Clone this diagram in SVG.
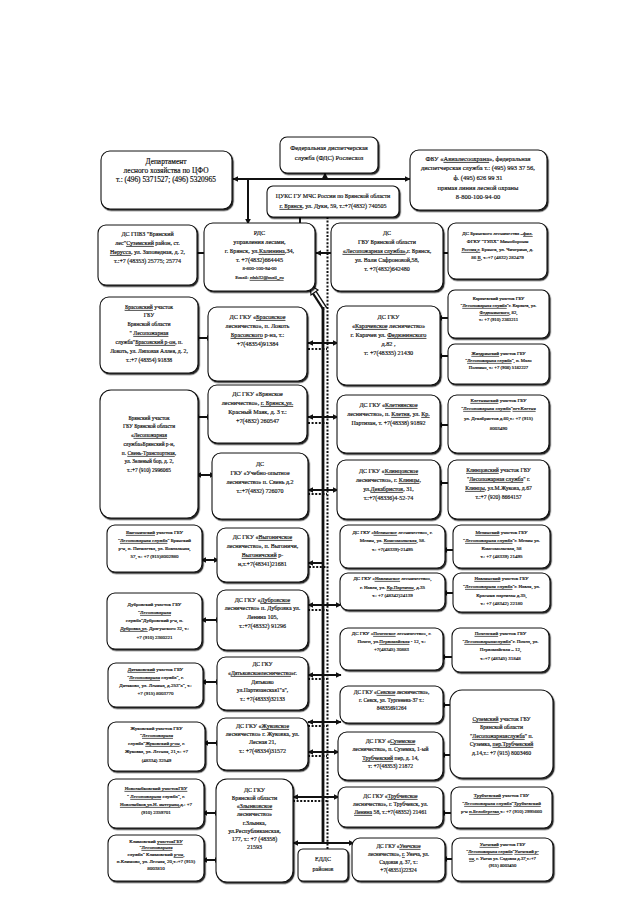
<svg xmlns="http://www.w3.org/2000/svg" width="640" height="905" viewBox="0 0 640 905">
<defs>
<style>
.bg{fill:#fff}
.b{fill:#fff;stroke:#111;stroke-width:1.1;filter:url(#sh)}
.t{font-family:"Liberation Serif","Times New Roman",serif;fill:#111;stroke:#111;stroke-width:0.18;text-anchor:middle}
.u{text-decoration:underline}
.f75{font-size:7.4px}.f7{font-size:7px}.f65{font-size:6.5px}.f62{font-size:6.2px}.f6{font-size:6px}.f58{font-size:5.7px}.f55{font-size:5.4px}.f5{font-size:5px}.f48{font-size:4.7px}
.a{stroke:#111;stroke-width:2;fill:none;marker-start:url(#ah);marker-end:url(#ah)}
.a1{stroke:#111;stroke-width:2;fill:none;marker-end:url(#ah)}
.ln{stroke:#111;stroke-width:2.8;fill:none}
.dt{stroke:#111;stroke-width:2;stroke-dasharray:2 1.6;fill:none}
</style>
<filter id="sh" x="-5%" y="-5%" width="115%" height="115%">
<feDropShadow dx="1.2" dy="1.4" stdDeviation="0.4" flood-color="#000" flood-opacity="0.85"/>
</filter>
<marker id="ah" viewBox="0 0 10 10" refX="9" refY="5" markerWidth="6" markerHeight="6" markerUnits="userSpaceOnUse" orient="auto-start-reverse">
<path d="M0,0 L10,5 L0,10 Z" fill="#111"/>
</marker>
</defs>
<rect class="bg" width="640" height="905"/>

<g id="connectors">
<line class="a" x1="233" y1="179" x2="410" y2="179"/>
<line class="a1" x1="325" y1="179" x2="325" y2="173"/>
<line class="a1" x1="248" y1="179" x2="248" y2="224"/>
<line class="a" x1="300" y1="211" x2="300" y2="229"/>
<line class="dt" x1="327.5" y1="217" x2="327.5" y2="849"/>
<line class="a" x1="190" y1="253" x2="211" y2="253"/>
<line class="a" x1="316" y1="253" x2="336" y2="253"/>
<line class="a" x1="437" y1="253" x2="455" y2="253"/>
<path d="M325,309 L314,292" stroke="#111" stroke-width="5.5" fill="none"/>
<path d="M325.5,309 L314.5,292" stroke="#fff" stroke-width="2" fill="none"/>
<path d="M310,285 L318,290 L311,295 Z" fill="#fff" stroke="#111" stroke-width="1.2"/>
<line class="ln" x1="323" y1="307" x2="323" y2="844"/>
<line class="a" x1="308" y1="343" x2="338" y2="343"/>
<line class="a" x1="308" y1="417" x2="338" y2="417"/>
<line class="a" x1="308" y1="490" x2="338" y2="490"/>
<line class="a1" x1="323" y1="563" x2="308" y2="563"/>
<line class="a" x1="308" y1="605" x2="341" y2="605"/>
<line class="a" x1="308" y1="675" x2="341" y2="675"/>
<line class="a" x1="308" y1="722" x2="341" y2="722"/>
<line class="a" x1="308" y1="752" x2="339" y2="752"/>
<line class="a" x1="293" y1="797" x2="339" y2="797"/>
<line class="a" x1="293" y1="843" x2="354" y2="843"/>
<line class="dt" x1="308" y1="349" x2="327" y2="349"/>
<line class="dt" x1="308" y1="423" x2="327" y2="423"/>
<line class="dt" x1="308" y1="494" x2="327" y2="494"/>
<line class="dt" x1="309" y1="567" x2="327" y2="567"/>
<line class="dt" x1="308" y1="610" x2="327" y2="610"/>
<line class="dt" x1="308" y1="679" x2="327" y2="679"/>
<line class="dt" x1="308" y1="726" x2="327" y2="726"/>
<line class="dt" x1="308" y1="756" x2="327" y2="756"/>
<line class="dt" x1="293" y1="801" x2="327" y2="801"/>
<line class="a" x1="194" y1="338" x2="212" y2="338"/>
<line class="a" x1="194" y1="417" x2="212" y2="417"/>
<line class="a" x1="196" y1="475" x2="215" y2="475"/>
<line class="a" x1="201" y1="560" x2="219" y2="560"/>
<line class="a" x1="201" y1="620" x2="221" y2="620"/>
<line class="a" x1="201" y1="682" x2="221" y2="682"/>
<line class="a" x1="203" y1="743" x2="221" y2="743"/>
<line class="a" x1="202" y1="813" x2="220" y2="813"/>
<line class="a" x1="202" y1="860" x2="220" y2="860"/>
<line class="a" x1="437" y1="318" x2="455" y2="318"/>
<line class="a" x1="437" y1="356" x2="455" y2="356"/>
<line class="a" x1="437" y1="425" x2="455" y2="425"/>
<line class="a" x1="437" y1="483" x2="455" y2="483"/>
<line class="a" x1="442" y1="550" x2="458" y2="550"/>
<line class="a" x1="442" y1="593" x2="458" y2="593"/>
<line class="a" x1="440" y1="657" x2="457" y2="657"/>
<line class="a" x1="440" y1="705" x2="455" y2="705"/>
<line class="a" x1="440" y1="755" x2="455" y2="755"/>
<line class="a" x1="440" y1="813" x2="456" y2="813"/>
<line class="a" x1="442" y1="859" x2="457" y2="859"/>
</g>

<g id="dept"><rect class="b" x="101" y="151" width="131" height="58" rx="9"/>
<text class="t f75"><tspan x="166" y="164">Департамент</tspan><tspan x="166" y="173">лесного хозяйства по ЦФО</tspan><tspan x="166" y="182">т.: (496) 5371527; (496) 5320965</tspan></text></g>

<g id="fds"><rect class="b" x="280" y="137" width="98" height="36" rx="7"/>
<text class="t f65"><tspan x="329" y="150">Федеральная диспетчерская</tspan><tspan x="329" y="160">служба  (ФДС) Рослесхоз</tspan></text></g>

<g id="fbu"><rect class="b" x="410" y="150" width="137" height="60" rx="9"/>
<text class="t f65"><tspan x="478" y="161">ФБУ «<tspan class="u">Авиалесоохрана</tspan>»,  федеральная</tspan><tspan x="478" y="170">диспетчерская служба т.:  (495) 993 37 56,</tspan><tspan x="478" y="180">ф. (495) 626 99 31</tspan><tspan x="478" y="190">прямая линия лесной охраны</tspan><tspan x="478" y="199">8-800-100-94-00</tspan></text></g>

<g id="cuks"><rect class="b" x="267" y="186" width="132" height="31" rx="6"/>
<text class="t f6"><tspan x="333" y="198">ЦУКС ГУ МЧС России по Брянской области</tspan><tspan x="333" y="208"><tspan class="u">г. Брянск</tspan>, ул. Дуки, 59,  т.:+7(4832) 740505</tspan></text></g>

<g id="gpbz"><rect class="b" x="98" y="225" width="99" height="60" rx="8"/>
<text class="t f6"><tspan x="147.5" y="236">ДС ГПБЗ "Брянский</tspan><tspan x="147.5" y="245">лес"<tspan class="u">Суземский</tspan> район, ст.</tspan><tspan x="147.5" y="254"><tspan class="u">Нерусса</tspan>, ул. Заповедная, д. 2,</tspan><tspan x="147.5" y="263">т.:+7 (48353) 25775; 25774</tspan></text></g>

<g id="rds"><rect class="b" x="204" y="223" width="111" height="68" rx="9"/>
<text class="t f62"><tspan x="259.5" y="235">РДС</tspan><tspan x="259.5" y="244">управления лесами,</tspan><tspan x="259.5" y="253">г. Брянск, ул.<tspan class="u">Калинина</tspan>,34,</tspan><tspan x="259.5" y="262">т. +7(4832)664445</tspan><tspan x="259.5" y="270" class="f5">8-800-100-94-00</tspan><tspan x="259.5" y="279" class="f5">Email: <tspan class="u">rdsb32@mail_ru</tspan></tspan></text></g>

<g id="dsgbu"><rect class="b" x="331" y="223" width="112" height="68" rx="9"/>
<text class="t f6"><tspan x="387" y="235">ДС</tspan><tspan x="387" y="244">ГБУ Брянской области</tspan><tspan x="387" y="253"><tspan class="u">«Лесопожарная служба»</tspan>,г. Брянск,</tspan><tspan x="387" y="262">ул. Вали Сафроновой,58,</tspan><tspan x="387" y="271">т. +7(4832)642480</tspan></text></g>

<g id="bryansk-les"><rect class="b" x="448" y="223" width="99" height="56" rx="8"/>
<text class="t f5"><tspan x="497.5" y="235">ДС Брянского лесничества –<tspan class="u">фил.</tspan></tspan><tspan x="497.5" y="243">ФГКУ "ТУЛХ" Минобороны</tspan><tspan x="497.5" y="251"><tspan class="u">Россия,г.</tspan> Брянск, ул. Чичерина, д.</tspan><tspan x="497.5" y="259">86 <tspan class="u">В</tspan>, т.:+7 (4832) 282479</tspan></text></g>

<g id="brasov-uch"><rect class="b" x="100" y="297" width="98" height="76" rx="9"/>
<text class="t f58"><tspan x="149" y="309"><tspan class="u">Брасовский</tspan> участок</tspan><tspan x="149" y="317">ГБУ</tspan><tspan x="149" y="326">Брянской области</tspan><tspan x="149" y="335">" <tspan class="u">Лесопожарная</tspan></tspan><tspan x="149" y="344">служба"<tspan class="u">Брасовский р-он</tspan>, п.</tspan><tspan x="149" y="353">Локоть, ул. Липовая Аллея, д. 2,</tspan><tspan x="149" y="362">т.:+7 (48354) 91838</tspan></text></g>

<g id="brasov-ds"><rect class="b" x="208" y="307" width="99" height="74" rx="9"/>
<text class="t f62"><tspan x="257.5" y="319">ДС ГКУ «<tspan class="u">Брасовское</tspan></tspan><tspan x="257.5" y="328">лесничество», п. Локоть</tspan><tspan x="257.5" y="337"><tspan class="u">Брасовского</tspan> р-на, т.:</tspan><tspan x="257.5" y="346">+7(48354)91384</tspan></text></g>

<g id="karach-ds"><rect class="b" x="337" y="306" width="103" height="79" rx="9"/>
<text class="t f62"><tspan x="388.5" y="319">ДС ГКУ</tspan><tspan x="388.5" y="328">«<tspan class="u">Карачевское</tspan> лесничество»</tspan><tspan x="388.5" y="337">г. Карачев ул. <tspan class="u">Федюнинского</tspan></tspan><tspan x="388.5" y="346">д.82 ,</tspan><tspan x="388.5" y="355">т: +7(48335) 21430</tspan></text></g>

<g id="karach-uch"><rect class="b" x="448" y="290" width="101" height="48" rx="7"/>
<text class="t f48"><tspan x="498.5" y="300">Карачевский участок ГБУ</tspan><tspan x="498.5" y="307">"<tspan class="u">Лесопожарная служба</tspan>"г. Карачев, ул.</tspan><tspan x="498.5" y="314"><tspan class="u">Федюнинского</tspan>, 82,</tspan><tspan x="498.5" y="321">т.: +7 (910) 2363211</tspan></text></g>

<g id="zhizd-uch"><rect class="b" x="448" y="344" width="101" height="40" rx="7"/>
<text class="t f48"><tspan x="498.5" y="355"><tspan class="u">Жиздринский</tspan> участок ГБУ</tspan><tspan x="498.5" y="362">"<tspan class="u">Лесопожарная служба</tspan>", п. Мало</tspan><tspan x="498.5" y="369">Полпино, т.: +7 (908) 5182227</tspan></text></g>

<g id="bryansk-ds"><rect class="b" x="208" y="385" width="99" height="58" rx="9"/>
<text class="t f62"><tspan x="257.5" y="396">ДС ГКУ «Брянское</tspan><tspan x="257.5" y="405">лесничество», <tspan class="u">г. Брянск,ул.</tspan></tspan><tspan x="257.5" y="414">Красный Маяк, д. 3   т.:</tspan><tspan x="257.5" y="423">+7(4832) 260547</tspan></text></g>

<g id="bryansk-uch"><rect class="b" x="100" y="390" width="98" height="128" rx="11"/>
<text class="t f55"><tspan x="149" y="420">Брянский участок</tspan><tspan x="149" y="428">ГБУ Брянской области</tspan><tspan x="149" y="437">«<tspan class="u">Лесопожарная</tspan></tspan><tspan x="149" y="446">служба»Брянский р-н,</tspan><tspan x="149" y="455">п. <tspan class="u">Свень-Транспортная</tspan>,</tspan><tspan x="149" y="463">ул. Зеленый бор, д. 2,</tspan><tspan x="149" y="472">т.:+7 (910) 2996065</tspan></text></g>

<g id="kletnya-ds"><rect class="b" x="337" y="395" width="103" height="58" rx="9"/>
<text class="t f6"><tspan x="388.5" y="407">ДС ГКУ «<tspan class="u">Клетнянское</tspan></tspan><tspan x="388.5" y="416">лесничество», п. <tspan class="u">Клетня</tspan>, ул. <tspan class="u">Кр.</tspan></tspan><tspan x="388.5" y="425">Партизан, т. +7(48338) 91892</tspan></text></g>

<g id="kletnya-uch"><rect class="b" x="448" y="395" width="101" height="58" rx="9"/>
<text class="t f5"><tspan x="498.5" y="402"><tspan class="u">Клетнянский</tspan> участок ГБУ</tspan><tspan x="498.5" y="410">"<tspan class="u">Лесопожарная служба</tspan>"<tspan class="u">пгт.Клетня</tspan></tspan><tspan x="498.5" y="420">ул. Декабристов д.60,т.: +7 (915)</tspan><tspan x="498.5" y="430">8003490</tspan></text></g>

<g id="uchebno-ds"><rect class="b" x="212" y="453" width="96" height="66" rx="9"/>
<text class="t f6"><tspan x="260" y="466">ДС</tspan><tspan x="260" y="475">ГКУ «Учебно-опытное</tspan><tspan x="260" y="484">лесничество» п. Свень д.2</tspan><tspan x="260" y="493">т.:+7(4832) 726070</tspan></text></g>

<g id="klintsy-ds"><rect class="b" x="337" y="460" width="103" height="59" rx="9"/>
<text class="t f6"><tspan x="388.5" y="473">ДС ГКУ «<tspan class="u">Клинцовское</tspan></tspan><tspan x="388.5" y="482">лесничество», г. <tspan class="u">Клинцы</tspan>,</tspan><tspan x="388.5" y="491">ул.<tspan class="u">Декабристов</tspan>, 31,</tspan><tspan x="388.5" y="500">т.:+7(48336)4-52-74</tspan></text></g>

<g id="klintsy-uch"><rect class="b" x="448" y="460" width="101" height="59" rx="9"/>
<text class="t f58"><tspan x="498.5" y="472"><tspan class="u">Клинцовский</tspan> участок ГБУ</tspan><tspan x="498.5" y="481">"<tspan class="u">Лесопожарная служба</tspan>" г.</tspan><tspan x="498.5" y="490"><tspan class="u">Клинцы</tspan>, ул.М.Жукова, д.67</tspan><tspan x="498.5" y="499">т.:+7 (920) 8664157</tspan></text></g>

<g id="vygon-uch"><rect class="b" x="107" y="525" width="95" height="47" rx="8"/>
<text class="t f5"><tspan x="154.5" y="534"><tspan class="u">Выгоничский</tspan> участок ГБУ</tspan><tspan x="154.5" y="542">"<tspan class="u">Лесопожарная служба</tspan>" Брянский</tspan><tspan x="154.5" y="550">р-н, п. Пятилетка, ул. Вокзальная,</tspan><tspan x="154.5" y="558">57, т.: +7 (915)8002980</tspan></text></g>

<g id="vygon-ds"><rect class="b" x="217" y="528" width="91" height="54" rx="9"/>
<text class="t f6"><tspan x="262.5" y="539">ДС ГКУ «<tspan class="u">Выгоничское</tspan></tspan><tspan x="262.5" y="548">лесничество», п. Выгоничи,</tspan><tspan x="262.5" y="557"><tspan class="u">Выгоничский</tspan> р-</tspan><tspan x="262.5" y="566">н,т.+7(48341)21681</tspan></text></g>

<g id="mglin-ds"><rect class="b" x="340" y="525" width="105" height="43" rx="8"/>
<text class="t f5"><tspan x="392.5" y="534">ДС ГКУ «<tspan class="u">Мглинское</tspan> лесничество», г.</tspan><tspan x="392.5" y="542">Мглин, ул. <tspan class="u">Комсомольская</tspan>, 58.</tspan><tspan x="392.5" y="551">т.: +7(48339)-21495</tspan></text></g>

<g id="mglin-uch"><rect class="b" x="453" y="525" width="97" height="43" rx="8"/>
<text class="t f5"><tspan x="501.5" y="534"><tspan class="u">Мглинский</tspan> участок ГБУ</tspan><tspan x="501.5" y="542">"<tspan class="u">Лесопожарная служба</tspan>"г. Мглин ул.</tspan><tspan x="501.5" y="550">Комсомольская, 58</tspan><tspan x="501.5" y="558">т.: +7 (48339) 21495</tspan></text></g>

<g id="navlya-ds"><rect class="b" x="340" y="573" width="105" height="37" rx="8"/>
<text class="t f5"><tspan x="392.5" y="580">ДС ГКУ «<tspan class="u">Навлинское</tspan> лесничество»,</tspan><tspan x="392.5" y="589">г. Навля, ул. <tspan class="u">Кр.Партизан</tspan>, д.35</tspan><tspan x="392.5" y="597">т.: +7 (48342)24139</tspan></text></g>

<g id="navlya-uch"><rect class="b" x="453" y="573" width="97" height="39" rx="8"/>
<text class="t f5"><tspan x="501.5" y="580"><tspan class="u">Навлинский</tspan> участок ГБУ</tspan><tspan x="501.5" y="588">"<tspan class="u">Лесопожарная служба</tspan>"г. Навля, ул.</tspan><tspan x="501.5" y="597">Красных партизан д.35,</tspan><tspan x="501.5" y="605">т.: +7 (48342) 22180</tspan></text></g>

<g id="dubrov-uch"><rect class="b" x="107" y="593" width="95" height="56" rx="8"/>
<text class="t f5"><tspan x="154.5" y="606">Дубровский участок  ГБУ</tspan><tspan x="154.5" y="614">"<tspan class="u">Лесопожарная</tspan></tspan><tspan x="154.5" y="622">служба"Дубровский р-н, п.</tspan><tspan x="154.5" y="630"><tspan class="u">Дубровка,ул.</tspan> Драгунского 32, т.:</tspan><tspan x="154.5" y="639">+7 (910) 2360221</tspan></text></g>

<g id="dubrov-ds"><rect class="b" x="217" y="590" width="91" height="60" rx="9"/>
<text class="t f6"><tspan x="262.5" y="602">ДС ГКУ «<tspan class="u">Дубровское</tspan></tspan><tspan x="262.5" y="610">лесничество» п. Дубровка ул.</tspan><tspan x="262.5" y="619">Ленина 105,</tspan><tspan x="262.5" y="628">т.:+7(48332) 91296</tspan></text></g>

<g id="pochep-ds"><rect class="b" x="340" y="628" width="103" height="42" rx="8"/>
<text class="t f5"><tspan x="391.5" y="635">ДС ГКУ «<tspan class="u">Почепское</tspan> лесничество», г.</tspan><tspan x="391.5" y="643">Почеп, ул.<tspan class="u">Первомайская</tspan> - 12, т.:</tspan><tspan x="391.5" y="651">+7(48345) 30883</tspan></text></g>

<g id="pochep-uch"><rect class="b" x="452" y="628" width="97" height="44" rx="8"/>
<text class="t f5"><tspan x="500.5" y="635"><tspan class="u">Почепский</tspan> участок ГБУ</tspan><tspan x="500.5" y="643">"<tspan class="u">Лесопожарнаяслужба</tspan>"г. Почеп, ул.</tspan><tspan x="500.5" y="651">Первомайская – 12,</tspan><tspan x="500.5" y="660">т.:+7 (48345) 31848</tspan></text></g>

<g id="dyatk-uch"><rect class="b" x="108" y="663" width="95" height="44" rx="8"/>
<text class="t f5"><tspan x="155.5" y="671"><tspan class="u">Дятьковский</tspan> участок ГБУ</tspan><tspan x="155.5" y="679">"<tspan class="u">Лесопожарная</tspan> служба", г.</tspan><tspan x="155.5" y="687">Дятьково, ул. Ленина, д.253"а", т.:</tspan><tspan x="155.5" y="695">+7 (915) 8003770</tspan></text></g>

<g id="dyatk-ds"><rect class="b" x="217" y="657" width="91" height="53" rx="9"/>
<text class="t f58"><tspan x="262.5" y="666">ДС ГКУ</tspan><tspan x="262.5" y="675">«<tspan class="u">Дятьковскоелесничество</tspan>»г.</tspan><tspan x="262.5" y="684">Дятьково</tspan><tspan x="262.5" y="692">ул.Партизанская1"а",</tspan><tspan x="262.5" y="701">т.: +7(48333)32133</tspan></text></g>

<g id="sevsk-ds"><rect class="b" x="340" y="686" width="103" height="37" rx="8"/>
<text class="t f55"><tspan x="391.5" y="694">ДС ГКУ «<tspan class="u">Севское</tspan> лесничество»,</tspan><tspan x="391.5" y="702">г. Севск, ул. Тургенева-37 т.:</tspan><tspan x="391.5" y="710">84835691264</tspan></text></g>

<g id="suzem-uch"><rect class="b" x="450" y="690" width="103" height="88" rx="12"/>
<text class="t f58"><tspan x="501.5" y="721"><tspan class="u">Суземский</tspan> участок ГБУ</tspan><tspan x="501.5" y="729">Брянской области</tspan><tspan x="501.5" y="738">"<tspan class="u">Лесопожарнаяслужба</tspan>" п.</tspan><tspan x="501.5" y="746">Суземка, <tspan class="u">пер.Трубчевский</tspan></tspan><tspan x="501.5" y="755">д.14,т.: +7 (915) 8003460</tspan></text></g>

<g id="suzem-ds"><rect class="b" x="338" y="732" width="105" height="48" rx="9"/>
<text class="t f58"><tspan x="390.5" y="743">ДС ГКУ «<tspan class="u">Суземское</tspan></tspan><tspan x="390.5" y="751">лесничество», п. Суземка, 1-ый</tspan><tspan x="390.5" y="760"><tspan class="u">Трубчевский</tspan> пер, д. 14,</tspan><tspan x="390.5" y="768">т: +7(48353)  21872</tspan></text></g>

<g id="zhuk-uch"><rect class="b" x="108" y="722" width="97" height="49" rx="8"/>
<text class="t f5"><tspan x="156.5" y="730">Жуковский участок ГБУ</tspan><tspan x="156.5" y="737">"<tspan class="u">Лесопожарная</tspan></tspan><tspan x="156.5" y="745">служба"<tspan class="u">Жуковский р-он</tspan>, г.</tspan><tspan x="156.5" y="753">Жуковка, ул. Лесная, 21,т.: +7</tspan><tspan x="156.5" y="762">(48334) 32549</tspan></text></g>

<g id="zhuk-ds"><rect class="b" x="217" y="718" width="91" height="52" rx="9"/>
<text class="t f6"><tspan x="262.5" y="728">ДС ГКУ «<tspan class="u">Жуковское</tspan></tspan><tspan x="262.5" y="736">лесничество» г. Жуковка, ул.</tspan><tspan x="262.5" y="744">Лесная 21,</tspan><tspan x="262.5" y="753">т.: +7(48334)31572</tspan></text></g>

<g id="novozyb-uch"><rect class="b" x="108" y="779" width="96" height="49" rx="8"/>
<text class="t f5"><tspan x="156" y="790"><tspan class="u">Новозыбковский участокГБУ</tspan></tspan><tspan x="156" y="798">" <tspan class="u">Лесопожарная</tspan> служба", г.</tspan><tspan x="156" y="806"><tspan class="u">Новозыбков,ул.Н. интернац.</tspan>д.: +7</tspan><tspan x="156" y="814">(910) 2359701</tspan></text></g>

<g id="zlynka-ds"><rect class="b" x="216" y="779" width="77" height="103" rx="11"/>
<text class="t f6"><tspan x="254.5" y="792">ДС ГКУ</tspan><tspan x="254.5" y="800">Брянской области</tspan><tspan x="254.5" y="808">«<tspan class="u">Злынковское</tspan></tspan><tspan x="254.5" y="816">лесничество»</tspan><tspan x="254.5" y="825">г.Злынка,</tspan><tspan x="254.5" y="833">ул.Республиканская,</tspan><tspan x="254.5" y="841">177,  т.: +7 (48358)</tspan><tspan x="254.5" y="849">21593</tspan></text></g>

<g id="trub-ds"><rect class="b" x="338" y="787" width="105" height="40" rx="8"/>
<text class="t f58"><tspan x="390.5" y="798">ДС ГКУ «<tspan class="u">Трубчевское</tspan></tspan><tspan x="390.5" y="806">лесничество», г. Трубчевск, ул.</tspan><tspan x="390.5" y="814"><tspan class="u">Ленина</tspan> 58, т.:+7(48352) 21461</tspan></text></g>

<g id="trub-uch"><rect class="b" x="451" y="787" width="101" height="41" rx="8"/>
<text class="t f5"><tspan x="501.5" y="797"><tspan class="u">Трубчевский</tspan> участок ГБУ</tspan><tspan x="501.5" y="805">"<tspan class="u">Лесопожарная служба</tspan>"<tspan class="u">Трубчевский</tspan></tspan><tspan x="501.5" y="813">р-н <tspan class="u">п.Белоберезка</tspan>,т.: +7 (910) 2995660</tspan></text></g>

<g id="klimov-uch"><rect class="b" x="108" y="835" width="96" height="46" rx="8"/>
<text class="t f5"><tspan x="156" y="843">Климовский <tspan class="u">участокГБУ</tspan></tspan><tspan x="156" y="849">"<tspan class="u">Лесопожарная</tspan></tspan><tspan x="156" y="856">служба" Климовский <tspan class="u">р-он</tspan>,</tspan><tspan x="156" y="863">п.Климово, ул. Лесная, 20,т.:+7 (915)</tspan><tspan x="156" y="870">8003810</tspan></text></g>

<g id="unecha-ds"><rect class="b" x="352" y="838" width="93" height="43" rx="8"/>
<text class="t f55"><tspan x="398.5" y="848">ДС ГКУ «<tspan class="u">Унечское</tspan></tspan><tspan x="398.5" y="856">лесничество», <tspan class="u">г.</tspan> Унеча, ул.</tspan><tspan x="398.5" y="864">Садовая д. 37, т.:</tspan><tspan x="398.5" y="872">+7(48351)22324</tspan></text></g>

<g id="unecha-uch"><rect class="b" x="452" y="838" width="101" height="43" rx="8"/>
<text class="t f48"><tspan x="502.5" y="846"><tspan class="u">Унечский</tspan> участок ГБУ</tspan><tspan x="502.5" y="853">"<tspan class="u">Лесопожарная служба</tspan>"<tspan class="u">Унечский р-</tspan></tspan><tspan x="502.5" y="860"><tspan class="u">он</tspan>, г. Унеча ул. Садовая д.37,т.:+7</tspan><tspan x="502.5" y="867">(915) 8003450</tspan></text></g>

<g id="eddc"><rect class="b" x="298" y="849" width="50" height="32" rx="5"/>
<text class="t f6"><tspan x="323" y="861">ЕДДС</tspan><tspan x="323" y="871">районов</tspan></text></g>
</svg>
